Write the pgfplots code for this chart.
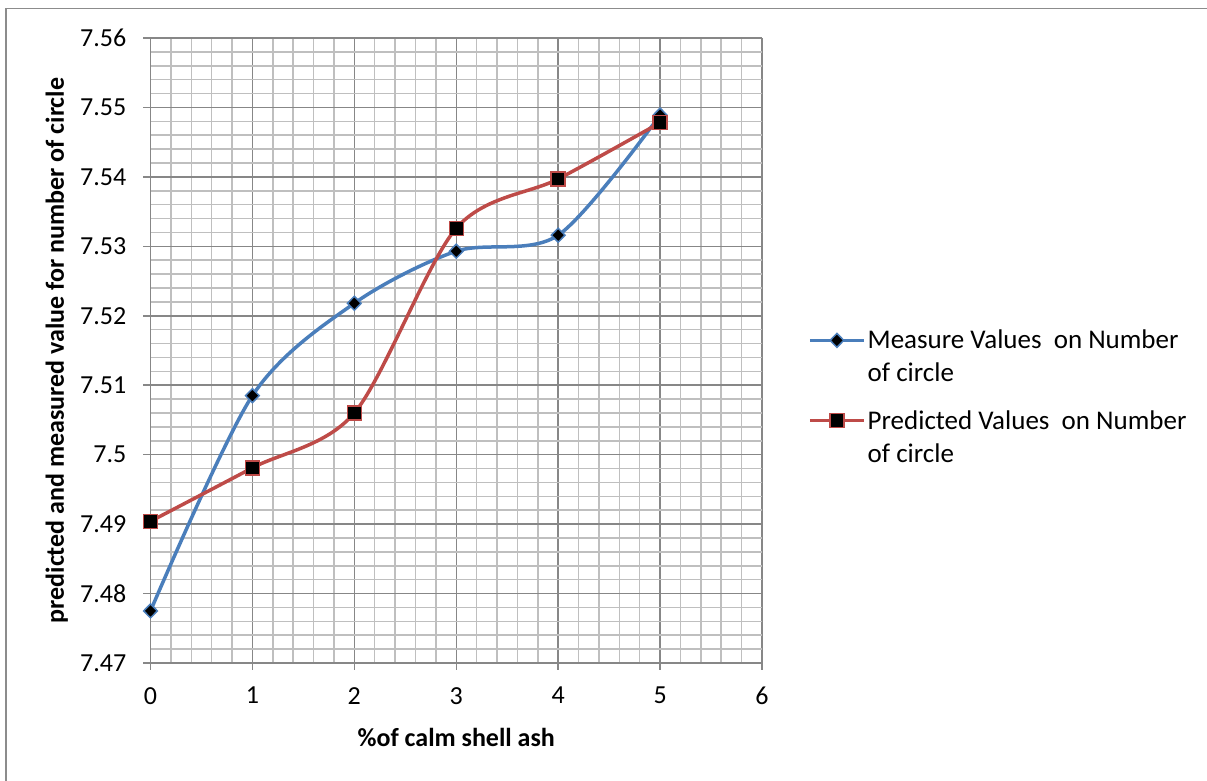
\documentclass[border=0pt]{standalone}
\usepackage{pgfplots}
\pgfplotsset{compat=1.18}
\usepackage{fontspec}
\setmainfont{Carlito}
\definecolor{mblue}{HTML}{4A7EBB}
\definecolor{mred}{HTML}{BE4B48}
\definecolor{majgrid}{HTML}{878787}
\definecolor{mingrid}{HTML}{BFBFBF}
\definecolor{frame}{HTML}{8C8C8C}
\begin{document}
\begin{tikzpicture}[x=1pt,y=1pt,font=\fontsize{26}{33}\selectfont]
\path[use as bounding box] (0,0) rectangle (1207,781);
\draw[frame, line width=1.5pt] (6,-5) -- (6,772.5) -- (1215,772.5);
\begin{axis}[
  at={(150.5pt,118pt)}, anchor=south west,
  scale only axis, width=611.5pt, height=625pt,
  xmin=0, xmax=6, ymin=7.47, ymax=7.56,
  xtick={0,1,2,3,4,5,6},
  ytick={7.47,7.48,7.49,7.5,7.51,7.52,7.53,7.54,7.55,7.56},
  minor x tick num=4, minor y tick num=4,
  grid=both,
  major grid style={majgrid, line width=1.5pt},
  minor grid style={mingrid, line width=1.5pt},
  axis line style={majgrid, line width=1.5pt},
  axis x line*=bottom, axis y line*=left,
  tick align=outside, major tick length=7pt, minor tick length=0pt,
  tick style={majgrid, line width=1.5pt},
  /pgf/number format/assume math mode=true,
  /pgf/number format/fixed,
  /pgf/number format/precision=2,
  xticklabel style={inner sep=0pt, anchor=north, yshift=-17pt},
  yticklabel style={inner sep=0pt, anchor=east, xshift=-17pt},
  xlabel={\bfseries \%of calm shell ash},
  ylabel={\bfseries predicted and measured value for number of circle},
  xlabel style={at={(axis description cs:0.5,-0.1344)}, anchor=base},
  ylabel style={at={(axis description cs:-0.1415,0.5)}, anchor=base, rotate=0},
  clip=false,
  legend style={draw=none, fill=none, at={(1.0752,0.4256)}, anchor=west,
    inner sep=0pt, row sep=23pt, cells={align=left},
    font=\fontsize{27}{33}\selectfont},
  legend cell align=left,
  legend image code/.code={\draw[mark repeat=2,mark phase=2,#1] plot coordinates {(-2pt,16.5pt) (25pt,16.5pt) (52pt,16.5pt)};},
]
\addplot[mblue, line width=3.5pt, smooth, mark=diamond*, mark size=7pt,
  mark options={fill=black, draw=mblue, line width=1.5pt, xscale=1.3}]
  coordinates {(0,7.4775) (1,7.5085) (2,7.5218) (3,7.5293) (4,7.5316) (5,7.5489)};
\addlegendentry{Measure Values~ on Number\\of circle}
\addplot[mred, line width=3.5pt, smooth, mark=square*, mark size=7pt,
  mark options={fill=black, draw=mred, line width=1.5pt}]
  coordinates {(0,7.4904) (1,7.4981) (2,7.5060) (3,7.5326) (4,7.5397) (5,7.5478)};
\addlegendentry{Predicted Values~ on Number\\of circle}
\end{axis}
\end{tikzpicture}
\end{document}
